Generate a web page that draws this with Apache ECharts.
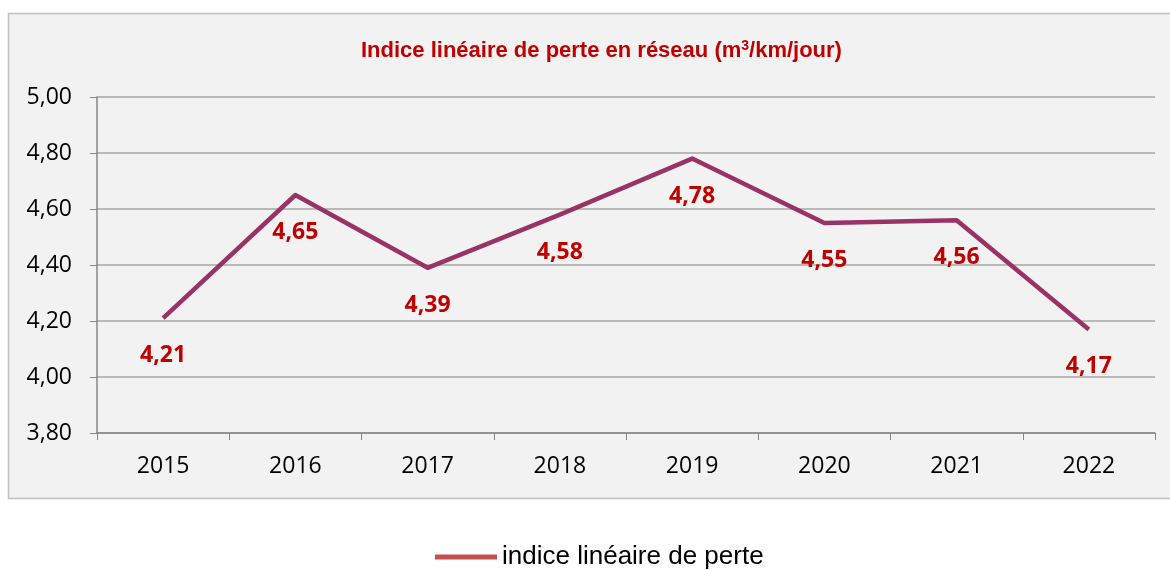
<!DOCTYPE html>
<html><head><meta charset="utf-8">
<script src="https://cdn.jsdelivr.net/npm/echarts@6/dist/echarts.min.js"></script>
<style>html,body{margin:0;padding:0;background:#fff}#c{width:1170px;height:570px}</style>
</head><body><div id="c"></div>
<script>
const categories = ['2015','2016','2017','2018','2019','2020','2021','2022'];
const values = [4.21, 4.65, 4.39, 4.58, 4.78, 4.55, 4.56, 4.17];
const seriesName = 'indice linéaire de perte';
const yMin = 3.8, yMax = 5.0, yStep = 0.2;

const chart = echarts.init(document.getElementById('c'));
const fmt = v => v.toFixed(2).replace('.', ',');
const narrow = '"Liberation Sans Narrow", "Liberation Sans", Arial, sans-serif';
const body = '"Open Sans", "Noto Sans", sans-serif';
chart.setOption({
  backgroundColor: '#ffffff',
  animation: false,
  graphic: [{
    type: 'rect', z: -10, silent: true,
    shape: { x: 8.5, y: 13.5, width: 1180, height: 485 },
    style: { fill: '#f2f2f2', stroke: '#bfbfbf', lineWidth: 1.5 }
  }],
  title: {
    text: 'Indice linéaire de perte en réseau (m{sup|3}/km/jour)',
    left: 356, top: 34,
    textStyle: {
      color: '#c00000', fontSize: 22, fontWeight: 'bold', fontFamily: narrow,
      rich: { sup: { color: '#c00000', fontSize: 14, fontWeight: 'bold', verticalAlign: 'top', padding: [0,0,9,0], fontFamily: narrow } }
    }
  },
  legend: {
    bottom: -5, left: 430,
    itemWidth: 62, itemHeight: 5, itemGap: 9,
    icon: 'rect',
    textStyle: { fontSize: 26, color: '#000', fontFamily: narrow },
    data: [{ name: seriesName, itemStyle: { color: '#c0504d' } }]
  },
  grid: { left: 97, right: 15, top: 97, bottom: 137, containLabel: false },
  xAxis: {
    type: 'category', data: categories, boundaryGap: true,
    axisLine: { lineStyle: { color: '#868686', width: 1.5 } },
    axisTick: { show: true, alignWithLabel: false, length: 7, lineStyle: { color: '#868686' } },
    axisLabel: { color: '#000', fontSize: 23, margin: 22, fontFamily: body },
    splitLine: { show: false }
  },
  yAxis: {
    type: 'value', min: yMin, max: yMax, interval: yStep,
    axisLine: { show: true, lineStyle: { color: '#868686', width: 1.5 } },
    axisTick: { show: true, length: 7, lineStyle: { color: '#868686' } },
    axisLabel: { color: '#000', fontSize: 23, margin: 25, formatter: fmt, fontFamily: body },
    splitLine: { show: true, lineStyle: { color: '#a6a6a6', width: 1.5 } }
  },
  series: [{
    name: seriesName, type: 'line', data: values,
    symbol: 'circle', symbolSize: 0.1, showSymbol: true,
    lineStyle: { color: '#993366', width: 4.5, join: 'round' },
    itemStyle: { color: '#993366' },
    label: {
      show: true, position: 'bottom', distance: 26,
      color: '#c00000', fontSize: 23, fontWeight: 'bold', fontFamily: body,
      formatter: p => fmt(p.value)
    }
  }]
});
</script></body></html>
